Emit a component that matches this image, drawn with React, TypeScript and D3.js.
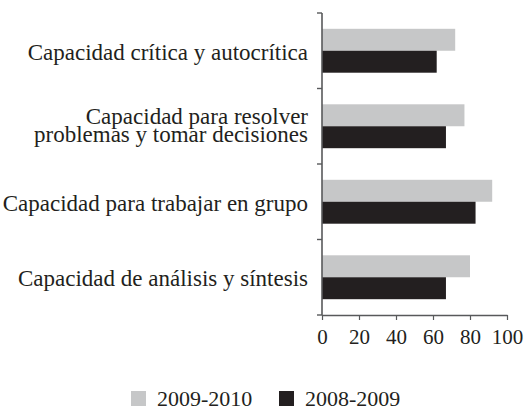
import { useRef, useEffect } from 'react';
import * as d3 from 'd3';

// categories top to bottom, each label split in lines
const categories = [
  'Capacidad crítica y autocrítica',
  'Capacidad para resolver|problemas y tomar decisiones',
  'Capacidad para trabajar en grupo',
  'Capacidad de análisis y síntesis',
];
const seriesNames = ['2009-2010', '2008-2009'];
const values20092010 = [72, 77, 92, 80];
const values20082009 = [62, 67, 83, 67];
const xTicks = [0, 20, 40, 60, 80, 100];
const colors = ['#c6c7c8', '#231f20'];

const App = () => {
  const svgRef = useRef(null);

  useEffect(() => {
    const width = 525;
    const height = 409;
    const svg = d3.select(svgRef.current);
    svg.selectAll('*').remove();
    svg.attr('width', width).attr('height', height)
      .style('font-family', '"Liberation Serif", serif');

    const series = [values20092010, values20082009];

    const x = d3.scaleLinear().domain([0, 100]).range([322, 507]);
    const y = d3.scaleBand().domain(categories).range([13, 315]);
    const inner = d3.scaleBand().domain(seriesNames)
      .range([0, y.bandwidth()]).paddingOuter(0.72);

    const g = svg.append('g');

    // bars
    seriesNames.forEach((name, si) => {
      g.selectAll(`.bar-${si}`)
        .data(categories)
        .join('rect')
        .attr('x', x(0))
        .attr('y', d => y(d) + inner(name))
        .attr('width', (d, i) => x(series[si][i]) - x(0))
        .attr('height', inner.bandwidth())
        .attr('fill', colors[si]);
    });

    // y axis line and boundary ticks
    const axisColor = '#58595b';
    g.append('line')
      .attr('x1', x(0)).attr('x2', x(0))
      .attr('y1', y.range()[0]).attr('y2', y.range()[1])
      .attr('stroke', axisColor).attr('stroke-width', 1.6);
    const bounds = categories.map(c => y(c)).concat([y.range()[1]]);
    g.selectAll('.ytick')
      .data(bounds)
      .join('line')
      .attr('x1', x(0) - 5).attr('x2', x(0))
      .attr('y1', d => d).attr('y2', d => d)
      .attr('stroke', axisColor).attr('stroke-width', 1.4);

    // x axis
    const xAxis = d3.axisBottom(x).tickValues(xTicks).tickSize(5).tickPadding(9).tickSizeOuter(0);
    const xg = g.append('g')
      .attr('transform', `translate(0,${y.range()[1]})`)
      .call(xAxis);
    xg.select('.domain').attr('stroke', axisColor).attr('stroke-width', 1.4);
    xg.selectAll('.tick line').attr('stroke', axisColor).attr('stroke-width', 1.2);
    xg.selectAll('.tick text')
      .attr('font-size', 21)
      .attr('font-family', '"Liberation Serif", serif')
      .attr('fill', '#231f20');

    // category labels (tight leading like the original)
    const lineH = 18;
    categories.forEach(c => {
      const lines = c.split('|');
      const cy = y(c) + y.bandwidth() / 2;
      const base = cy + 9 - (lines.length - 1) * 11.5;
      const t = g.append('text')
        .attr('text-anchor', 'end')
        .attr('font-size', 23)
        .attr('fill', '#231f20');
      lines.forEach((l, i) => {
        t.append('tspan')
          .attr('x', 308)
          .attr('y', base + i * lineH)
          .text(l);
      });
    });

    // legend
    const legendX = [131, 279];
    seriesNames.forEach((name, i) => {
      g.append('rect')
        .attr('x', legendX[i]).attr('y', 391)
        .attr('width', 15).attr('height', 15)
        .attr('fill', colors[i]);
      g.append('text')
        .attr('x', legendX[i] + 26).attr('y', 405.5)
        .attr('font-size', 22)
        .attr('fill', '#231f20')
        .text(name);
    });
  }, []);

  return (
    <svg ref={svgRef} style={{ position: 'absolute', left: 0, top: 0 }}></svg>
  );
};

export default App;
